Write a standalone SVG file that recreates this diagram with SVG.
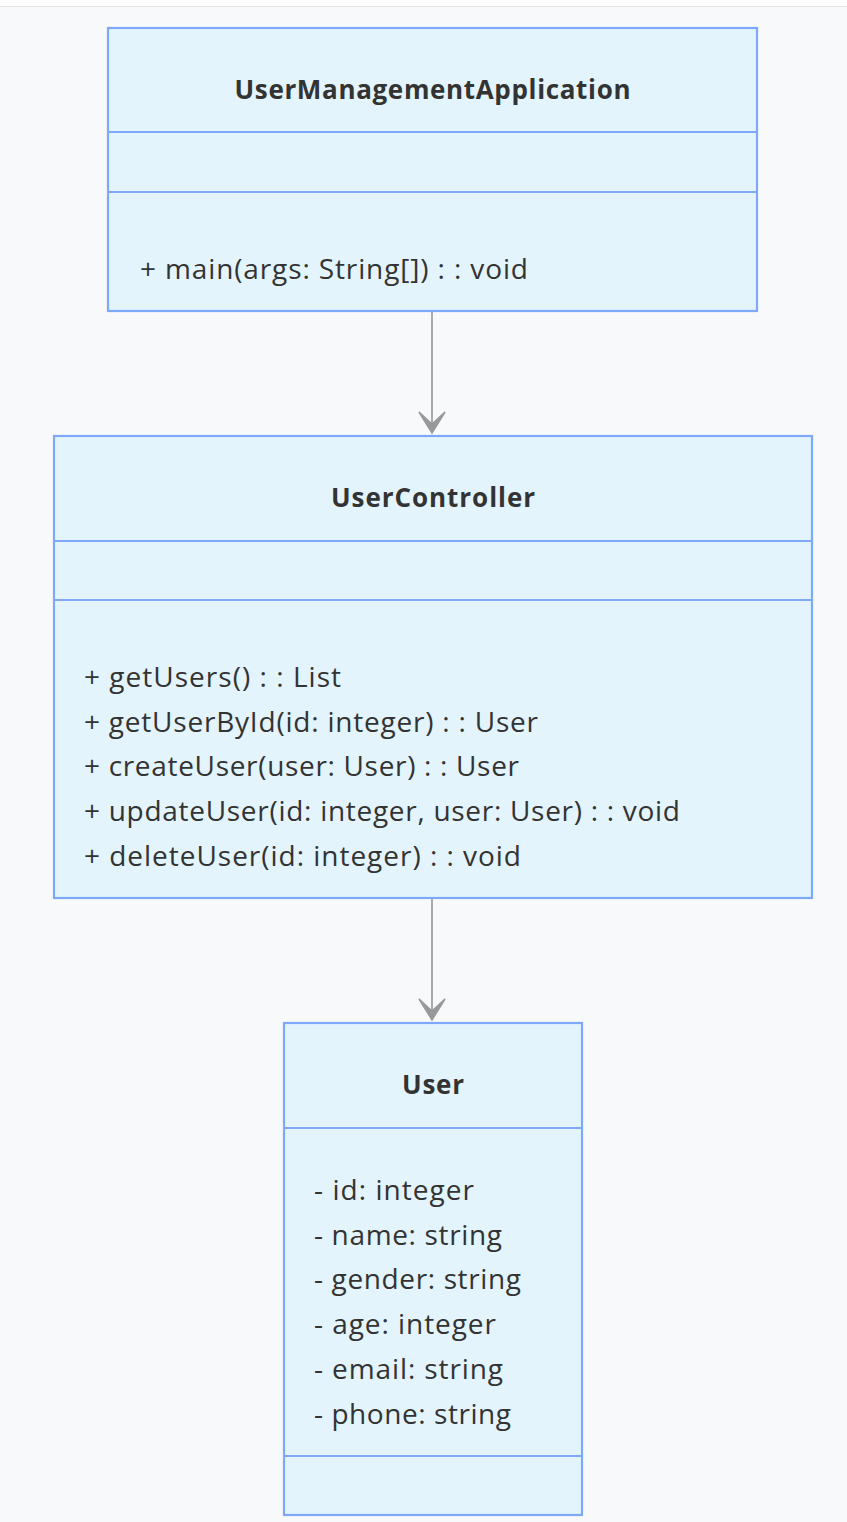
<svg xmlns="http://www.w3.org/2000/svg" width="847" height="1522" viewBox="0 0 847 1522">
<style>
.box{fill:#e3f4fd;stroke:#7ea8f8;stroke-width:2.2}
.div{stroke:#7ea8f8;stroke-width:2.2}
.t{font-family:"Open Sans","Noto Sans","DejaVu Sans",sans-serif;font-size:28px;fill:#333;dominant-baseline:central}
.b{font-weight:bold;text-anchor:middle;font-size:26px}
.edge{stroke:#aaaaaa;stroke-width:2;fill:none}
.head{fill:#999;stroke:#999;stroke-width:1.5;stroke-linejoin:miter}
</style>
<rect x="0" y="0" width="847" height="1522" fill="#f8f9fb"/>
<rect x="0" y="0" width="847" height="6" fill="#ffffff"/>
<line x1="0" y1="6.5" x2="847" y2="6.5" stroke="#e6e6e6" stroke-width="1"/>
<g id="connectors">
<line class="edge" x1="432" y1="311" x2="432" y2="428"/>
<path class="head" d="M419,412 L432,433 L445,412 L432,424 Z"/>
<line class="edge" x1="432" y1="898" x2="432" y2="1015"/>
<path class="head" d="M419,999 L432,1020 L445,999 L432,1011 Z"/>
</g>
<g id="UserManagementApplication">
<rect class="box" x="108" y="28" width="649" height="283"/>
<line class="div" x1="108" y1="132" x2="757" y2="132"/>
<line class="div" x1="108" y1="192" x2="757" y2="192"/>
<text class="t b" x="432.5" y="89" textLength="396">UserManagementApplication</text>
<text class="t" x="140" y="268" textLength="388">+ main(args: String[]) : : void</text>
</g>
<g id="UserController">
<rect class="box" x="54" y="436" width="758" height="462"/>
<line class="div" x1="54" y1="541" x2="812" y2="541"/>
<line class="div" x1="54" y1="600" x2="812" y2="600"/>
<text class="t b" x="433" y="497" textLength="204">UserController</text>
<text class="t" x="84" y="676" textLength="257">+ getUsers() : : List</text>
<text class="t" x="84" y="721" textLength="454">+ getUserById(id: integer) : : User</text>
<text class="t" x="84" y="765" textLength="435">+ createUser(user: User) : : User</text>
<text class="t" x="84" y="810" textLength="596">+ updateUser(id: integer, user: User) : : void</text>
<text class="t" x="84" y="855" textLength="437">+ deleteUser(id: integer) : : void</text>
</g>
<g id="User">
<rect class="box" x="284" y="1023" width="298" height="492"/>
<line class="div" x1="284" y1="1128" x2="582" y2="1128"/>
<line class="div" x1="284" y1="1456" x2="582" y2="1456"/>
<text class="t b" x="433" y="1084" textLength="62">User</text>
<text class="t" x="314" y="1189" textLength="160">- id: integer</text>
<text class="t" x="314" y="1234" textLength="188">- name: string</text>
<text class="t" x="314" y="1278" textLength="207">- gender: string</text>
<text class="t" x="314" y="1323" textLength="182">- age: integer</text>
<text class="t" x="314" y="1368" textLength="189">- email: string</text>
<text class="t" x="314" y="1413" textLength="197">- phone: string</text>
</g>
</svg>
